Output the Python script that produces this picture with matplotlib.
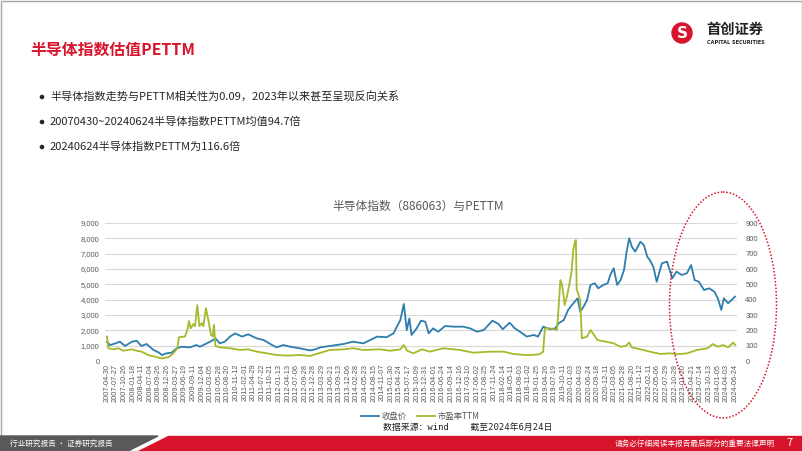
import matplotlib.pyplot as plt
import matplotlib.patches as mpatches
import numpy as np

plt.rcParams['font.family'] = ['Noto Sans CJK SC', 'DejaVu Sans']

# x tick labels (category axis, one label every 12 weeks)
tick_labels = [
    "2007-04-30", "2007-07-27", "2007-10-26", "2008-01-18", "2008-04-11", "2008-07-04",
    "2008-09-26", "2008-12-26", "2009-03-27", "2009-06-19", "2009-09-11", "2009-12-04",
    "2010-03-05", "2010-05-28", "2010-08-20", "2010-11-12", "2011-02-01", "2011-04-29",
    "2011-07-22", "2011-10-21", "2012-01-13", "2012-04-13", "2012-07-06", "2012-09-28",
    "2012-12-28", "2013-03-29", "2013-06-21", "2013-09-13", "2013-12-06", "2014-02-28",
    "2014-05-23", "2014-08-15", "2014-11-07", "2015-01-30", "2015-04-24", "2015-07-17",
    "2015-10-09", "2015-12-31", "2016-04-01", "2016-06-24", "2016-09-14", "2016-12-16",
    "2017-03-10", "2017-06-02", "2017-08-25", "2017-11-24", "2018-02-14", "2018-05-11",
    "2018-08-03", "2018-11-02", "2019-01-25", "2019-04-26", "2019-07-19", "2019-10-11",
    "2020-01-03", "2020-04-03", "2020-06-24", "2020-09-18", "2020-12-11", "2021-03-05",
    "2021-05-28", "2021-08-20", "2021-11-12", "2022-02-11", "2022-05-06", "2022-07-29",
    "2022-10-28", "2023-01-20", "2023-04-21", "2023-07-14", "2023-10-13", "2024-01-05",
    "2024-04-03", "2024-06-24",
]

# close price, positions in tick-label units
close_pos = [0, 0.35, 1.0, 1.5, 2.1, 2.9, 3.45, 4.0, 4.6, 5.4, 6.0, 6.4, 6.9, 7.5, 8.1, 8.7,
             9.65, 10.4, 10.8, 11.6, 12.2, 12.6, 13.1, 13.7, 14.3, 14.9, 15.7, 16.4, 17.4,
             18.2, 19.2, 19.7, 20.5, 21.3, 22.4, 23.6, 24.2, 24.8, 25.9, 27.5, 28.6, 29.8,
             30.6, 31.4, 32.5, 33.3, 33.8, 34.1, 34.5, 34.85, 35.15, 35.4, 36.0, 36.5, 37.0,
             37.4, 37.9, 38.5, 39.3, 40.3, 41.4, 42.2, 43.0, 43.8, 44.8, 45.5, 46.0, 46.8,
             47.4, 48.0, 48.8, 49.6, 50.1, 50.7, 51.5, 52.1, 52.5, 53.1, 53.6, 54.2, 54.7,
             55.0, 55.4, 55.8, 56.2, 56.7, 57.1, 57.7, 58.2, 58.5, 58.9, 59.3, 59.7, 60.1,
             60.4, 60.7, 61.0, 61.4, 62.0, 62.4, 62.8, 63.1, 63.5, 63.9, 64.5, 65.1, 65.4,
             65.7, 66.2, 66.8, 67.4, 67.9, 68.3, 68.8, 69.4, 70.0, 70.6, 71.0, 71.4, 71.7,
             72.2, 72.6, 73.0]
close_val = [1250, 1040, 1150, 1260, 980, 1260, 1320, 980, 1110, 720, 560, 390, 500, 540, 830, 930,
             890, 1040, 930, 1150, 1320, 1480, 1150, 1260, 1590, 1800, 1590, 1740, 1480,
             1370, 1040, 890, 1040, 930, 830, 690, 760, 890, 980, 1110, 1260, 1150,
             1370, 1590, 1550, 1800, 2350, 2670, 3720, 2020, 2780, 1700, 2130, 2630, 2560,
             1800, 2130, 1910, 2280, 2240, 2240, 2130, 1910, 2020, 2630, 2420, 2070, 2500,
             2130, 1910, 1590, 1700, 1590, 2240, 2070, 2130, 2460, 2670, 3330, 3760, 4090,
             3220, 3540, 3980, 4960, 5070, 4740, 4960, 5070, 5610, 6050, 4960, 5280, 5940,
             7130, 8000, 7460, 7130, 7780, 7570, 6800, 6580, 6150, 5170, 6370, 6480, 5940,
             5390, 5830, 5610, 5720, 6260, 5280, 5170, 4630, 4740, 4520, 4090, 3330, 4090,
             3760, 3980, 4200]

# PE TTM
pe_pos = [0, 0.16, 0.74, 1.32, 1.9, 2.87, 3.45, 4.03, 4.8, 5.58, 6.36, 7.13, 7.7, 8.18, 8.37,
          9.07, 9.34, 9.53, 9.73, 10.04, 10.23, 10.5, 10.74, 11.0, 11.2, 11.5, 11.78, 12.09,
          12.29, 12.44, 12.6, 13.14, 14.3, 15.5, 16.4, 17.4, 18.6, 19.7, 20.9, 22.4, 23.6,
          25.9, 27.5, 28.6, 29.8, 31.8, 32.9, 34.1, 34.5, 34.9, 35.6, 36.6, 37.5, 39.1, 41.0,
          42.6, 44.5, 46.1, 47.2, 48.6, 49.2, 50.3, 50.7, 50.9, 51.5, 52.3, 52.5, 52.7, 52.9,
          53.2, 53.5, 53.8, 54.0, 54.2, 54.4, 54.5, 54.6, 54.7, 55.0, 55.2, 55.8, 56.2, 56.6,
          57.0, 58.0, 58.9, 59.7, 60.3, 60.7, 61.0, 62.0, 63.1, 64.3, 65.4, 66.4, 67.4, 68.6,
          69.8, 70.4, 71.0, 71.6, 72.2, 72.8, 73.0]
pe_val = [159, 83, 76, 83, 67, 76, 67, 61, 39, 28, 17, 24, 50, 83, 155,
          160, 202, 261, 213, 241, 227, 365, 227, 247, 227, 344, 267, 170,
          160, 235, 98, 89, 83, 72, 76, 61, 50, 39, 35, 39, 33,
          72, 76, 83, 72, 76, 67, 76, 104, 67, 50, 76, 61, 83, 72,
          54, 61, 61, 46, 39, 39, 44, 61, 213, 213, 202, 354, 528, 496,
          365, 430, 517, 583, 724, 778, 789, 463, 452, 398, 148, 159, 202, 170,
          137, 126, 115, 93, 98, 120, 89, 76, 61, 46, 50, 44, 50, 72,
          83, 111, 93, 104, 89, 120, 105]

W, H = 802, 451
fig = plt.figure(figsize=(W / 100, H / 100), dpi=100)

# chart
ax = fig.add_axes([105 / W, (H - 361) / H, 632 / W, 138 / H])
ax2 = ax.twinx()
blue = '#2E7DAF'
green = '#A6B92B'
l1, = ax.plot(close_pos, close_val, color=blue, lw=1.3, label='收盘价')
l2, = ax2.plot(pe_pos, pe_val, color=green, lw=1.3, label='市盈率TTM')
ax.set_xlim(-0.23, 73.23)
ax.set_ylim(0, 9000)
ax2.set_ylim(0, 900)
ax.set_yticks(np.arange(0, 9001, 1000))
ax.set_yticklabels([f'{v:,}' for v in range(0, 9001, 1000)])
ax2.set_yticks(np.arange(0, 901, 100))
ax.set_xticks(range(len(tick_labels)))
ax.set_xticklabels(tick_labels, rotation=90)
ax.grid(axis='y', color='#d9d9d9', lw=0.8)
ax.set_axisbelow(True)
for a in (ax, ax2):
    for s in a.spines.values():
        s.set_visible(False)
    a.tick_params(length=0, colors='#595959', labelsize=5.5)
    for t in a.get_yticklabels() + a.get_xticklabels():
        t.set_family(['Liberation Sans', 'Noto Sans CJK SC'])
ax.tick_params(axis='x', pad=2, labelsize=5.3)
ax.tick_params(axis='y', pad=4)
ax2.tick_params(axis='y', pad=6)

fig.text(418 / W, 1 - 206 / H, '半导体指数（886063）与PETTM', ha='center', va='center',
         fontsize=8.5, color='#595959')
fig.legend(handles=[l1, l2], loc='center', bbox_to_anchor=(420 / W, 1 - 416 / H), ncol=2,
           frameon=False, fontsize=6, handlelength=2.2, handletextpad=0.3, columnspacing=1.2,
           labelcolor='#595959')
fig.text(383 / W, 1 - 428 / H, '数据来源：wind    截至2024年6月24日', ha='left', va='center',
         fontsize=6.4, color='#222222', family=['DejaVu Sans Mono', 'Noto Sans CJK SC'])

# slide decoration, in pixel coordinates
deco = fig.add_axes([0, 0, 1, 1], facecolor='none')
deco.set_xlim(0, W)
deco.set_ylim(H, 0)
deco.axis('off')
deco.add_patch(mpatches.Rectangle((0.5, 0.5), W - 1, H - 1, fill=False, ec='#a6a6a6', lw=1))
deco.text(30, 50, '半导体指数估值PETTM', fontsize=11.4, fontweight='bold', color='#D7142B',
          va='center', ha='left')
bullets = ['半导体指数走势与PETTM相关性为0.09，2023年以来甚至呈现反向关系',
           '20070430~20240624半导体指数PETTM均值94.7倍',
           '20240624半导体指数PETTM为116.6倍']
for i, b in enumerate(bullets):
    y = 97 + i * 25
    deco.add_patch(mpatches.Circle((42, y), 1.6, color='#262626'))
    deco.text(50, y, b, fontsize=8, color='#262626', va='center')

# logo
deco.add_patch(mpatches.Circle((682, 33), 10, color='#D7142B'))
deco.text(682, 33, 'S', color='white', fontsize=11, fontweight='bold', ha='center',
          va='center', family='DejaVu Sans')
deco.text(706, 30, '首创证券', fontsize=10.3, fontweight='bold', color='#222222', va='center')
deco.text(707, 43, 'CAPITAL SECURITIES', fontsize=3.6, fontweight='bold', color='#222222',
          va='center', family='DejaVu Sans')

# red dotted ellipse
deco.add_patch(mpatches.Ellipse((723, 305), 107, 226, fill=False, ec='#D7142B', lw=1.1,
                                ls=(0, (1, 1.2))))

# footer
deco.add_patch(mpatches.Polygon([(0, 436), (158, 436), (128, 451), (0, 451)], color='#595959'))
deco.add_patch(mpatches.Polygon([(168, 436), (W, 436), (W, 451), (138, 451)], color='#D7142B'))
deco.text(10, 444, '行业研究报告 · 证券研究报告', fontsize=5.5, color='white', va='center')
deco.text(775, 444, '请务必仔细阅读本报告最后部分的重要法律声明', fontsize=5.5, color='white',
          va='center', ha='right')
deco.text(790, 443, '7', fontsize=8, color='white', va='center', ha='center')

fig.savefig('out.png', dpi=100)
